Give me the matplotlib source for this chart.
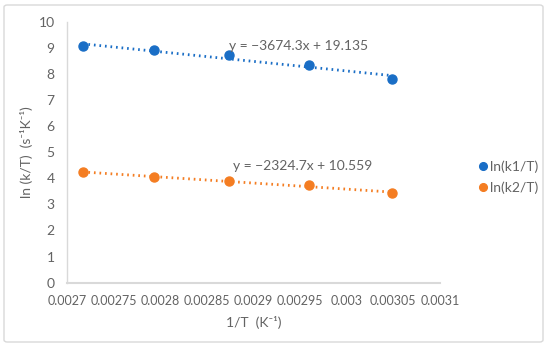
import numpy as np
import matplotlib
matplotlib.use("Agg")
import matplotlib.pyplot as plt
from matplotlib.patches import FancyBboxPatch

# data
inv_T = [0.002717, 0.002793, 0.002874, 0.002959, 0.003049]
ln_k1_T = [9.05, 8.90, 8.72, 8.35, 7.82]
ln_k2_T = [4.26, 4.04, 3.90, 3.76, 3.44]

# trendline coefficients as printed on the chart
fit_k1 = (-3674.3, 19.135)
fit_k2 = (-2324.7, 10.559)
eq_k1 = "y = \u22123674.3x + 19.135"
eq_k2 = "y = \u22122324.7x + 10.559"

x_ticks = [0.0027, 0.00275, 0.0028, 0.00285, 0.0029, 0.00295, 0.003, 0.00305, 0.0031]
x_tick_labels = ["0.0027", "0.00275", "0.0028", "0.00285", "0.0029",
                 "0.00295", "0.003", "0.00305", "0.0031"]
y_ticks = list(range(0, 11))

BLUE = "#1a6ec6"
ORANGE = "#f47d22"
GREY_TXT = "#636363"
GREY_LINE = "#d9d9d9"

plt.rcParams["font.family"] = ["Lato", "DejaVu Sans"]

fig = plt.figure(figsize=(5.5, 3.49), dpi=100)
fig.patches.append(FancyBboxPatch((4 / 550, 7 / 349), 539 / 550, 337 / 349,
                                  boxstyle="round,pad=0,rounding_size=0.006",
                                  transform=fig.transFigure, fill=False,
                                  edgecolor=GREY_LINE, linewidth=1.0))

ax = fig.add_axes([67 / 550, 1 - 282.7 / 349, 373 / 550, 261 / 349])

for ys, fit, col, lab in [(ln_k1_T, fit_k1, BLUE, "ln(k1/T)"),
                          (ln_k2_T, fit_k2, ORANGE, "ln(k2/T)")]:
    xs = np.array([inv_T[0], inv_T[-1]])
    ax.plot(xs, fit[0] * xs + fit[1], color=col, linewidth=2.0,
            linestyle=(0, (0.6, 1.4)), dash_capstyle="butt", zorder=2)
    ax.plot(inv_T, ys, "o", color=col, markersize=6.5, label=lab, zorder=3)

ax.text(0.002874, 9.05, eq_k1, fontsize=10, color=GREY_TXT, va="center")
ax.text(0.002878, 4.49, eq_k2, fontsize=10, color=GREY_TXT, va="center")

ax.set_xlim(0.0027, 0.0031)
ax.set_ylim(0, 10)
ax.set_xticks(x_ticks)
ax.set_xticklabels(x_tick_labels)
ax.set_yticks(y_ticks)
ax.tick_params(axis="both", length=0, labelsize=10, colors=GREY_TXT)
ax.tick_params(axis="x", pad=9, labelsize=9)
ax.tick_params(axis="y", pad=9)

for s in ["top", "right"]:
    ax.spines[s].set_visible(False)
ax.spines["left"].set_color(GREY_LINE)
ax.spines["bottom"].set_color(GREY_LINE)
ax.spines["left"].set_linewidth(1.0)
ax.spines["bottom"].set_linewidth(1.5)

ax.set_xlabel("1/T  (K\u207b\u00b9)", fontsize=10, color=GREY_TXT, labelpad=6)
ax.set_ylabel("ln (k/T)  (s\u207b\u00b9K\u207b\u00b9)", fontsize=10, color=GREY_TXT, labelpad=4)

fig.legend(loc="upper left", bbox_to_anchor=(466 / 550, 1 - 148 / 349),
           frameon=False, fontsize=10, handletextpad=0.1, handlelength=0.7,
           labelcolor=GREY_TXT, labelspacing=0.6, markerscale=0.85)

fig.savefig("out.png", dpi=100)
